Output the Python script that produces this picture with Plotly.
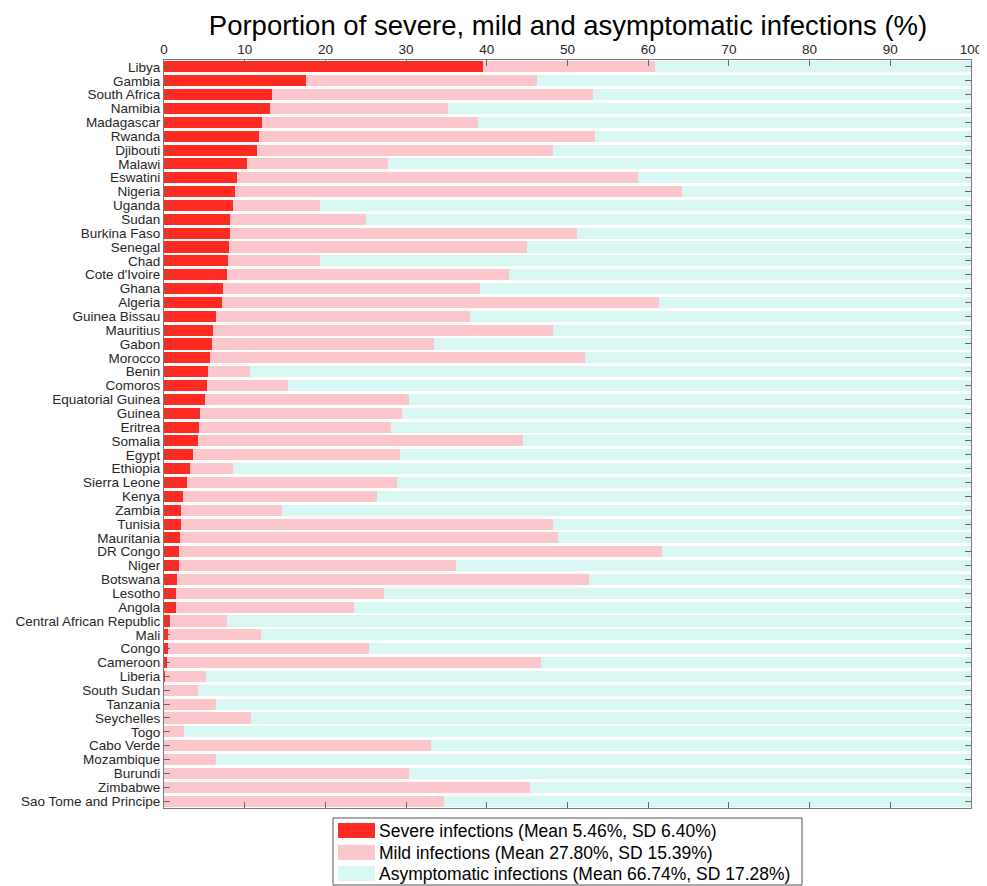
import plotly.graph_objects as go

countries = ["Libya", "Gambia", "South Africa", "Namibia", "Madagascar", "Rwanda", "Djibouti", "Malawi",
             "Eswatini", "Nigeria", "Uganda", "Sudan", "Burkina Faso", "Senegal", "Chad", "Cote d'Ivoire",
             "Ghana", "Algeria", "Guinea Bissau", "Mauritius", "Gabon", "Morocco", "Benin", "Comoros",
             "Equatorial Guinea", "Guinea", "Eritrea", "Somalia", "Egypt", "Ethiopia", "Sierra Leone", "Kenya",
             "Zambia", "Tunisia", "Mauritania", "DR Congo", "Niger", "Botswana", "Lesotho", "Angola",
             "Central African Republic", "Mali", "Congo", "Cameroon", "Liberia", "South Sudan", "Tanzania",
             "Seychelles", "Togo", "Cabo Verde", "Mozambique", "Burundi", "Zimbabwe", "Sao Tome and Principe"]

severe = [39.5, 17.6, 13.4, 13.1, 12.1, 11.8, 11.5, 10.3,
          9.0, 8.8, 8.5, 8.2, 8.2, 8.1, 7.9, 7.8,
          7.3, 7.2, 6.5, 6.1, 5.9, 5.7, 5.5, 5.3,
          5.1, 4.4, 4.3, 4.2, 3.6, 3.2, 2.8, 2.3,
          2.1, 2.1, 2.0, 1.9, 1.9, 1.6, 1.5, 1.5,
          0.7, 0.5, 0.5, 0.4, 0.15, 0.0, 0.0,
          0.0, 0.0, 0.0, 0.0, 0.0, 0.0, 0.0]

mild = [21.3, 28.6, 39.8, 22.1, 26.8, 41.6, 36.7, 17.5,
        49.7, 55.4, 10.8, 16.8, 43.0, 36.9, 11.4, 35.0,
        31.8, 54.1, 31.4, 42.1, 27.5, 46.5, 5.2, 10.1,
        25.2, 25.1, 23.8, 40.3, 25.6, 5.4, 26.1, 24.1,
        12.5, 46.1, 46.8, 59.8, 34.3, 51.1, 25.8, 22.1,
        7.1, 11.5, 24.9, 46.3, 5.05, 4.2, 6.4,
        10.8, 2.5, 33.1, 6.4, 30.3, 45.3, 34.7]

asymptomatic = [39.2, 53.8, 46.8, 64.8, 61.1, 46.6, 51.8, 72.2,
                41.3, 35.8, 80.7, 75.0, 48.8, 55.0, 80.7, 57.2,
                60.9, 38.7, 62.1, 51.8, 66.6, 47.8, 89.3, 84.6,
                69.7, 70.5, 71.9, 55.5, 70.8, 91.4, 71.1, 73.6,
                85.4, 51.8, 51.2, 38.3, 63.8, 47.3, 72.7, 76.4,
                92.2, 88.0, 74.6, 53.3, 94.8, 95.8, 93.6,
                89.2, 97.5, 66.9, 93.6, 69.7, 54.7, 65.3]

series_names = ["Severe infections (Mean 5.46%, SD 6.40%)",
                "Mild infections (Mean 27.80%, SD 15.39%)",
                "Asymptomatic infections (Mean 66.74%, SD 17.28%)"]
series_colors = ["#FF2B22", "#FBC7CD", "#D9F7F2"]
x_ticks = [0, 10, 20, 30, 40, 50, 60, 70, 80, 90, 100]

# The page places the figure 8px from the top-left corner (default body margin)
OFF = 8
W, H = 987 - OFF, 886 - OFF
PL, PR, PT, PB = 164, 971, 60, 808          # target plot box in screen pixels
ML, MR, MT, MB = PL - OFF, OFF + W - PR, PT - OFF, OFF + H - PB
PW, PH = PR - PL, PB - PT


def px_x(p):
    return (p - PL) / PW


def px_y(p):
    return (PB - p) / PH


fig = go.Figure()
for vals, name, col in zip([severe, mild, asymptomatic], series_names, series_colors):
    fig.add_trace(go.Bar(y=countries, x=vals, orientation="h", name=name,
                         marker=dict(color=col, line=dict(width=0))))

FONT = "Helvetica, Liberation Sans, Arial"
axis_font = dict(family=FONT, size=13.5, color="#262626")

# Custom legend (box, swatches and labels)
shapes = [dict(type="rect", xref="paper", yref="paper",
               x0=px_x(333), x1=px_x(802), y0=px_y(885), y1=px_y(818),
               line=dict(color="#555555", width=1), fillcolor="white", layer="above")]
annotations = []
sw_tops = [823, 845, 866]
for i, (name, col) in enumerate(zip(series_names, series_colors)):
    t = sw_tops[i]
    shapes.append(dict(type="rect", xref="paper", yref="paper",
                       x0=px_x(338), x1=px_x(375), y0=px_y(t + 15), y1=px_y(t),
                       line=dict(width=0), fillcolor=col, layer="above"))
    annotations.append(dict(text=name, xref="paper", yref="paper", x=px_x(377), y=px_y(t + 7.5),
                            xanchor="left", yanchor="middle", showarrow=False,
                            font=dict(family=FONT, size=17.5, color="black")))

fig.update_layout(
    barmode="stack",
    bargap=0.2,
    width=W, height=H,
    margin=dict(l=ML, r=MR, t=MT, b=MB, autoexpand=False),
    paper_bgcolor="white", plot_bgcolor="white",
    font=dict(family=FONT, color="#262626"),
    title=dict(text="Porportion of severe, mild and asymptomatic infections (%)",
               x=(568 - OFF) / W, xanchor="center", y=1 - (25 - OFF) / H, yanchor="middle",
               font=dict(family=FONT, size=27.5, color="black")),
    xaxis=dict(range=[0, 100], side="top", tickvals=x_ticks, ticks="inside", ticklen=6,
               tickcolor="#666666", showline=True, linecolor="#777777", linewidth=1,
               mirror="ticks", showgrid=False, zeroline=False, tickfont=axis_font,
               fixedrange=True, automargin=False),
    yaxis=dict(categoryorder="array", categoryarray=countries, autorange="reversed",
               tickmode="array", tickvals=countries, ticktext=countries,
               ticks="inside", ticklen=6, tickcolor="#666666", showline=True,
               linecolor="#777777", linewidth=1, mirror="ticks", showgrid=False,
               tickfont=axis_font, fixedrange=True, automargin=False),
    showlegend=False,
    shapes=shapes,
    annotations=annotations,
)

fig.write_html("out.html")
